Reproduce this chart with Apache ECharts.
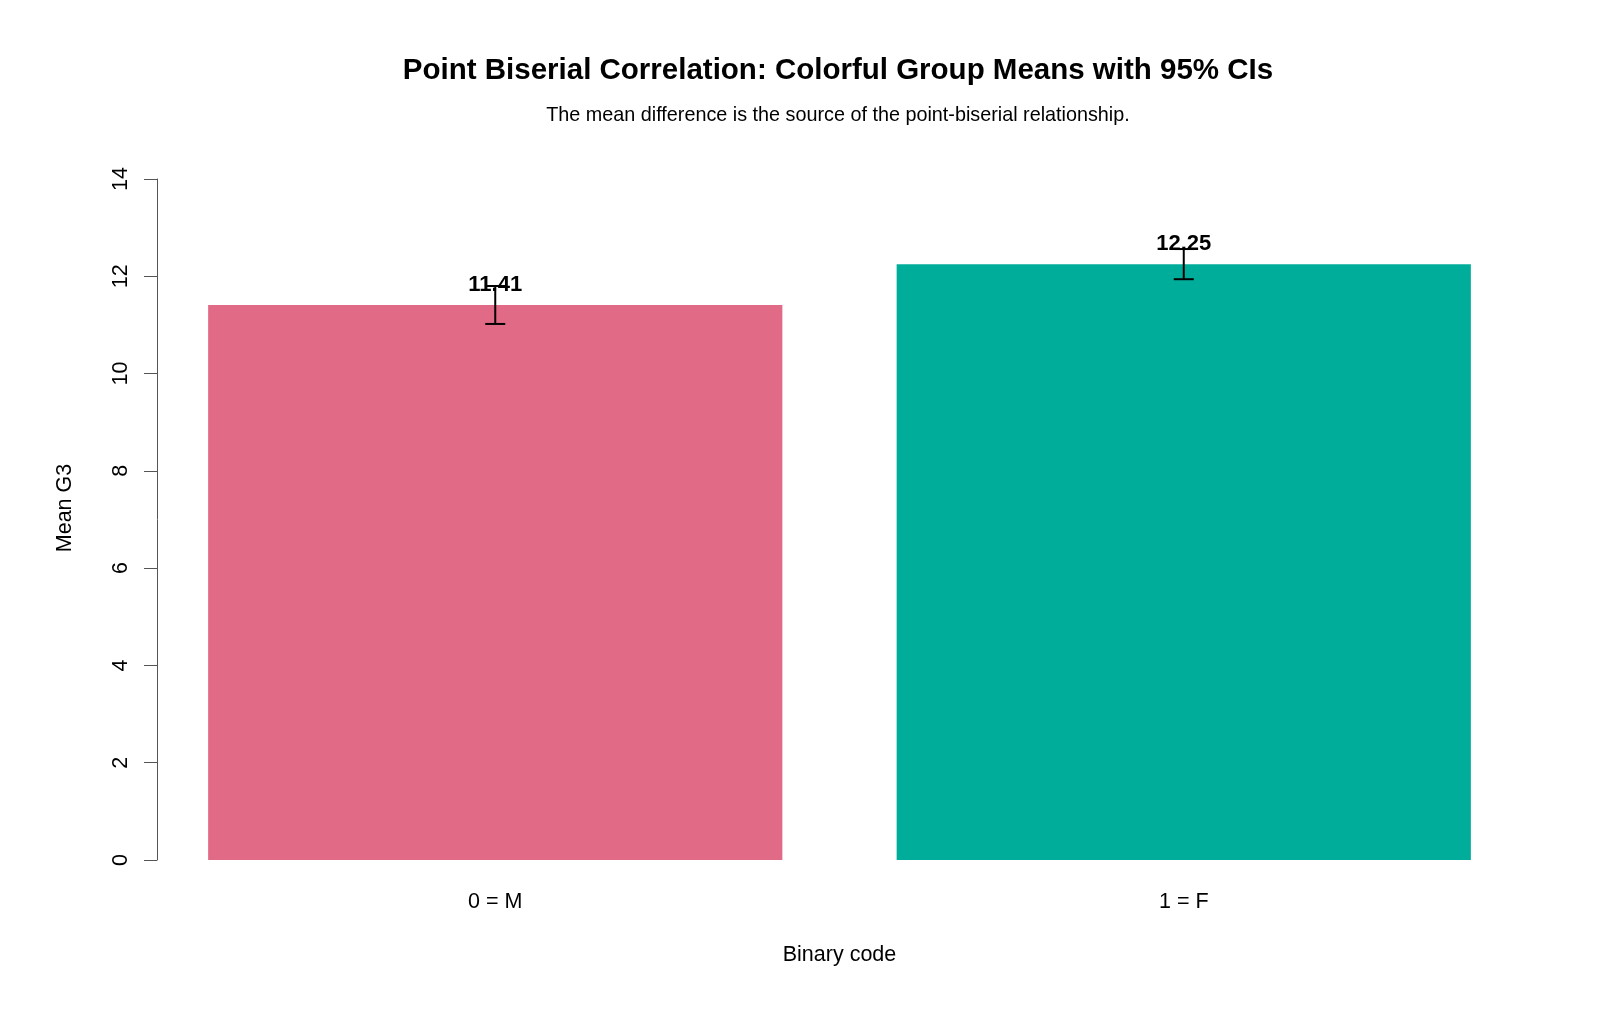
<!DOCTYPE html>
<html>
<head>
<meta charset="utf-8">
<title>Point Biserial Correlation</title>
<script src="https://cdn.jsdelivr.net/npm/echarts@6/dist/echarts.min.js"></script>
<style>
  html, body { margin: 0; padding: 0; background: #fff; }
  #main { width: 1600px; height: 1018px; }
</style>
</head>
<body>
<div id="main"></div>
<script>
var groups = ['0 = M', '1 = F'];
var means = [11.41, 12.25];
var ciLow = [11.02, 11.94];
var ciHigh = [11.80, 12.56];
var barColors = ['#E16A86', '#00AD9A'];
var yTicks = [0, 2, 4, 6, 8, 10, 12, 14];

var chart = echarts.init(document.getElementById('main'));
var font = 'Liberation Sans, Arial, sans-serif';

var option = {
    animation: false,
    title: {
        text: 'Point Biserial Correlation: Colorful Group Means with 95% CIs',
        subtext: 'The mean difference is the source of the point-biserial relationship.',
        left: 833,
        textAlign: 'center',
        top: 51,
        itemGap: 20,
        textStyle: { fontFamily: font, fontSize: 29.5, fontWeight: 'bold', color: '#000' },
        subtextStyle: { fontFamily: font, fontSize: 19.8, color: '#000' }
    },
    // y axis title sits a little above the plot centre, as in the original
    graphic: [{
        type: 'text',
        x: 65,
        y: 508,
        rotation: Math.PI / 2,
        style: {
            text: 'Mean G3',
            align: 'center', verticalAlign: 'middle',
            font: '21.5px ' + font, fill: '#000'
        }
    }],
    grid: { left: 151, right: 72, top: 179, bottom: 158 },
    xAxis: {
        type: 'category',
        data: groups,
        axisLine: { show: false },
        axisTick: { show: false },
        axisLabel: { fontFamily: font, fontSize: 21.5, color: '#000', margin: 31 },
        name: 'Binary code',
        nameLocation: 'middle',
        nameGap: 84,
        nameTextStyle: { fontFamily: font, fontSize: 21.5, color: '#000' }
    },
    yAxis: {
        type: 'value',
        min: 0,
        max: 14,
        interval: 2,
        offset: -6,
        splitLine: { show: false },
        axisLine: { show: true, lineStyle: { color: '#555', width: 1 } },
        axisTick: { show: true, length: 13, lineStyle: { color: '#555' } },
        axisLabel: {
            fontFamily: font, fontSize: 21.5, color: '#000', rotate: 90, margin: 25,
            formatter: function (v) { return yTicks.indexOf(v) >= 0 ? String(v) : ''; }
        }
    },
    series: [{
        type: 'bar',
        data: means.map(function (m, i) {
            return { value: m, itemStyle: { color: barColors[i] } };
        }),
        barCategoryGap: '16.6%'
    }, {
        type: 'custom',
        data: means.map(function (m, i) { return [i, m, ciLow[i], ciHigh[i]]; }),
        renderItem: function (params, api) {
            var x = api.coord([api.value(0), api.value(1)])[0];
            var yMean = api.coord([api.value(0), api.value(1)])[1];
            var yLo = api.coord([api.value(0), api.value(2)])[1];
            var yHi = api.coord([api.value(0), api.value(3)])[1];
            var half = 10;
            var ls = { stroke: '#000', lineWidth: 2 };
            return {
                type: 'group',
                children: [{
                    type: 'text',
                    style: {
                        x: x, y: yMean - 20,
                        text: means[params.dataIndex].toFixed(2),
                        align: 'center', verticalAlign: 'middle',
                        font: 'bold 22px ' + font, fill: '#000'
                    }
                }, {
                    type: 'line', shape: { x1: x, y1: yLo, x2: x, y2: yHi }, style: ls
                }, {
                    type: 'line', shape: { x1: x - half, y1: yLo, x2: x + half, y2: yLo }, style: ls
                }, {
                    type: 'line', shape: { x1: x - half, y1: yHi, x2: x + half, y2: yHi }, style: ls
                }]
            };
        },
        z: 5
    }]
};
chart.setOption(option);
</script>
</body>
</html>
